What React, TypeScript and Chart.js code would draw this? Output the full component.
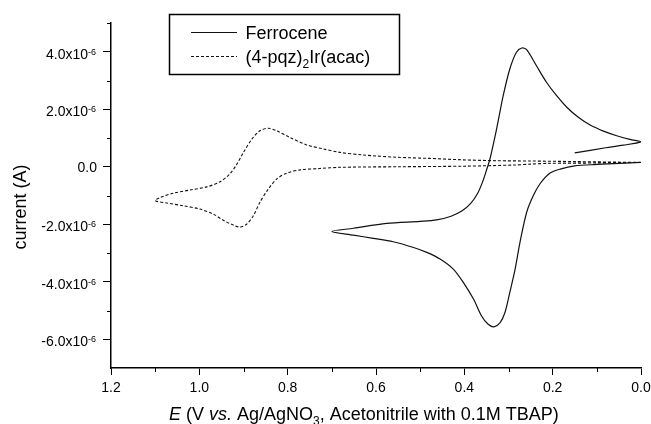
import React, { useEffect, useRef } from "react";
import { Chart, registerables } from "chart.js";

Chart.register(...registerables);

const FONT = '"Liberation Sans", Arial, Helvetica, sans-serif';

// Potential axis (V), reversed: 1.2 on the left, 0.0 on the right
const xTickValues = [0, 0.2, 0.4, 0.6, 0.8, 1.0, 1.2];
const xTickLabels = ["0.0", "0.2", "0.4", "0.6", "0.8", "1.0", "1.2"];
const xMinorTicks = [0.1, 0.3, 0.5, 0.7, 0.9, 1.1];

// Current axis, in units of 1e-6 A
const yTickValues = [-6, -4, -2, 0, 2, 4];
const yTickBases = ["-6.0x10", "-4.0x10", "-2.0x10", "0.0", "2.0x10", "4.0x10"];
const yTickExps = ["-6", "-6", "-6", "", "-6", "-6"];
const yMinorTicks = [-5, -3, -1, 1, 3, 5];

const seriesNames = ["Ferrocene", "(4-pqz)2Ir(acac)"];

// Ferrocene CV, in scan order: E (V) and current (1e-6 A)
const ferroceneE = [
  0.0, 0.05, 0.1, 0.15, 0.183, 0.206, 0.229, 0.244, 0.259, 0.274, 0.285, 0.297,
  0.308, 0.319, 0.333, 0.346, 0.361, 0.379, 0.402, 0.425, 0.455, 0.485, 0.515,
  0.561, 0.606, 0.651, 0.7,
  0.651, 0.576, 0.5, 0.463, 0.43, 0.405, 0.386, 0.37, 0.358, 0.349, 0.342, 0.327,
  0.312, 0.297, 0.282, 0.27, 0.259, 0.237, 0.214, 0.191, 0.168, 0.142, 0.115,
  0.085, 0.055, 0.025, 0.0,
  0.04, 0.08, 0.15,
];
const ferroceneI = [
  0.15, 0.12, 0.08, 0.03, -0.08, -0.22, -0.6, -1.01, -1.59, -2.63, -3.56, -4.37,
  -5.07, -5.42, -5.57, -5.48, -5.19, -4.61, -4.03, -3.56, -3.21, -2.98, -2.81,
  -2.61, -2.49, -2.38, -2.25,
  -2.14, -1.97, -1.9, -1.85, -1.72, -1.53, -1.28, -0.93, -0.5, -0.08, 0.27, 1.31,
  2.47, 3.4, 3.98, 4.13, 4.07, 3.52, 2.94, 2.47, 2.07, 1.72, 1.45,
  1.24, 1.08, 0.95, 0.87,
  0.75, 0.66, 0.48,
];

// (4-pqz)2Ir(acac) CV, in scan order: E (V) and current (1e-6 A)
const iridiumE = [
  0.0, 0.1, 0.206, 0.25, 0.289, 0.4, 0.55, 0.682, 0.727, 0.772, 0.802, 0.825,
  0.844, 0.863, 0.878, 0.893, 0.908, 0.923, 0.946, 0.968, 0.999, 1.036, 1.074,
  1.1,
  1.089, 1.059, 1.021, 0.983, 0.953, 0.931, 0.915, 0.9, 0.881, 0.863, 0.844,
  0.825, 0.795, 0.757, 0.719, 0.682, 0.629, 0.553, 0.478, 0.402, 0.327, 0.251,
  0.15, 0.0,
];
const iridiumI = [
  0.15, 0.13, 0.12, 0.09, 0.06, 0.02, 0.0, -0.02, -0.06, -0.11, -0.22, -0.43,
  -0.78, -1.24, -1.71, -2.0, -2.1, -2.03, -1.86, -1.65, -1.47, -1.36, -1.26,
  -1.18,
  -1.07, -0.92, -0.81, -0.7, -0.52, -0.25, 0.09, 0.5, 0.96, 1.25, 1.34,
  1.25, 1.02, 0.76, 0.62, 0.5, 0.41, 0.33, 0.29, 0.24, 0.21, 0.2,
  0.18, 0.15,
];

const MICRO = 1e-6;

type Seg = { t: string; italic?: boolean; sub?: boolean; sup?: boolean };

function drawRich(ctx: CanvasRenderingContext2D, x: number, y: number, segs: Seg[], size: number) {
  let cx = x;
  ctx.textAlign = "left";
  ctx.textBaseline = "alphabetic";
  for (const s of segs) {
    const sz = s.sub || s.sup ? Math.round(size * 0.66) : size;
    ctx.font = `${s.italic ? "italic " : ""}${sz}px ${FONT}`;
    const dy = s.sub ? size * 0.28 : s.sup ? -size * 0.4 : 0;
    ctx.fillText(s.t, cx, y + dy);
    cx += ctx.measureText(s.t).width;
  }
  return cx;
}

const annotations = {
  id: "annotations",
  afterDraw(chart: any) {
    const ctx: CanvasRenderingContext2D = chart.ctx;
    const xs = chart.scales.x;
    const ys = chart.scales.y;
    const area = chart.chartArea;
    ctx.save();
    ctx.strokeStyle = "#000";
    ctx.fillStyle = "#000";
    ctx.lineWidth = 1;

    // minor ticks
    ctx.beginPath();
    xMinorTicks.forEach((v) => {
      const px = Math.round(xs.getPixelForValue(v)) + 0.5;
      ctx.moveTo(px, area.bottom);
      ctx.lineTo(px, area.bottom + 4);
    });
    yMinorTicks.forEach((v) => {
      const py = Math.round(ys.getPixelForValue(v * MICRO)) + 0.5;
      ctx.moveTo(area.left - 4, py);
      ctx.lineTo(area.left, py);
    });
    ctx.stroke();

    // y tick labels with superscript exponent
    yTickValues.forEach((v, i) => {
      const py = ys.getPixelForValue(v * MICRO);
      const base = yTickBases[i];
      const exp = yTickExps[i];
      ctx.textBaseline = "alphabetic";
      if (!exp) {
        ctx.font = `14px ${FONT}`;
        ctx.textAlign = "right";
        ctx.fillText(base, area.left - 14, py + 5);
      } else {
        const right = area.left - 15;
        ctx.font = `9px ${FONT}`;
        const ew = ctx.measureText(exp).width;
        ctx.textAlign = "left";
        ctx.fillText(exp, right - ew, py + 3);
        ctx.font = `14px ${FONT}`;
        ctx.textAlign = "right";
        ctx.fillText(base, right - ew, py + 7);
      }
    });

    // y axis title
    ctx.save();
    ctx.translate(26, 207);
    ctx.rotate(-Math.PI / 2);
    ctx.font = `18px ${FONT}`;
    ctx.textAlign = "center";
    ctx.textBaseline = "alphabetic";
    ctx.fillText("current (A)", 0, 0);
    ctx.restore();

    // x axis title
    drawRich(
      ctx,
      169,
      420,
      [
        { t: "E", italic: true },
        { t: " (V " },
        { t: "vs.", italic: true },
        { t: " Ag/AgNO" },
        { t: "3", sub: true },
        { t: ", Acetonitrile with 0.1M TBAP)" },
      ],
      18
    );

    // legend
    const bx = 169.5, by = 14.5, bw = 230, bh = 60;
    ctx.fillStyle = "#fff";
    ctx.fillRect(bx, by, bw, bh);
    ctx.lineWidth = 1.5;
    ctx.strokeStyle = "#000";
    ctx.strokeRect(bx, by, bw, bh);
    ctx.lineWidth = 1.1;
    ctx.strokeStyle = "#111";
    ctx.beginPath();
    ctx.moveTo(191, 32.5);
    ctx.lineTo(237, 32.5);
    ctx.stroke();
    ctx.setLineDash([3, 2]);
    ctx.beginPath();
    ctx.moveTo(191, 56.5);
    ctx.lineTo(237, 56.5);
    ctx.stroke();
    ctx.setLineDash([]);
    ctx.fillStyle = "#000";
    drawRich(ctx, 245.5, 39, [{ t: seriesNames[0] }], 18);
    drawRich(ctx, 245.5, 63, [{ t: "(4-pqz)" }, { t: "2", sub: true }, { t: "Ir(acac)" }], 18);

    ctx.restore();
  },
};

export default function App() {
  const ref = useRef<HTMLCanvasElement | null>(null);

  useEffect(() => {
    document.body.style.margin = "0";
    const canvas = ref.current;
    if (!canvas) return;
    const toPoints = (E: number[], I: number[]) => E.map((e, i) => ({ x: e, y: I[i] * MICRO }));
    const chart = new Chart(canvas, {
      type: "scatter",
      data: {
        datasets: [
          {
            label: seriesNames[1],
            data: toPoints(iridiumE, iridiumI),
            showLine: true,
            borderColor: "#111",
            borderWidth: 1.1,
            borderDash: [3, 2],
            pointRadius: 0,
            tension: 0.3,
            fill: false,
          },
          {
            label: seriesNames[0],
            data: toPoints(ferroceneE, ferroceneI),
            showLine: true,
            borderColor: "#111",
            borderWidth: 1.2,
            pointRadius: 0,
            tension: 0.3,
            fill: false,
          },
        ],
      },
      options: {
        responsive: false,
        animation: false,
        layout: { padding: { top: 23, right: 10, left: 0, bottom: 0 } },
        plugins: { legend: { display: false }, tooltip: { enabled: false }, title: { display: false } },
        scales: {
          x: {
            type: "linear",
            reverse: true,
            min: 0,
            max: 1.2,
            afterBuildTicks: (s: any) => {
              s.ticks = xTickValues.map((v) => ({ value: v }));
            },
            afterFit: (s: any) => {
              s.height = 56;
            },
            ticks: {
              color: "#000",
              font: { family: FONT, size: 14 },
              padding: 5,
              maxRotation: 0,
              autoSkip: false,
              callback: (v: any) => {
                const i = xTickValues.findIndex((t) => Math.abs(t - Number(v)) < 1e-9);
                return i >= 0 ? xTickLabels[i] : "";
              },
            },
            grid: { display: true, drawOnChartArea: false, drawTicks: true, tickLength: 7, tickColor: "#000", tickWidth: 1 },
            border: { display: true, color: "#000", width: 1.5 },
          },
          y: {
            type: "linear",
            min: -7 * MICRO,
            max: 5 * MICRO,
            afterBuildTicks: (s: any) => {
              s.ticks = yTickValues.map((v) => ({ value: v * MICRO }));
            },
            afterFit: (s: any) => {
              s.width = 111;
            },
            ticks: { display: false },
            grid: { display: true, drawOnChartArea: false, drawTicks: true, tickLength: 8, tickColor: "#000", tickWidth: 1 },
            border: { display: true, color: "#000", width: 1.5 },
          },
        },
      },
      plugins: [annotations],
    });
    return () => chart.destroy();
  }, []);

  return (
    <div style={{ width: 651, height: 424 }}>
      <canvas ref={ref} width={651} height={424} style={{ display: "block" }} />
    </div>
  );
}
